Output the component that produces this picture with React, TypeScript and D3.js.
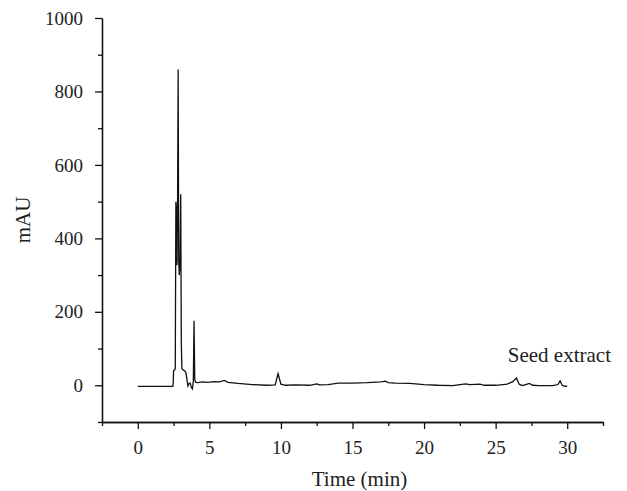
import React, { useEffect, useRef } from "react";
import * as d3 from "d3";

const times = [
  0, 2.45, 2.48, 2.5, 2.58, 2.62, 2.66, 2.7, 2.74, 2.78, 2.82, 2.86, 2.9, 2.95, 3.0, 3.04, 3.08,
  3.15, 3.25, 3.35, 3.42, 3.5, 3.58, 3.66, 3.74, 3.82, 3.88, 3.93, 3.98, 4.05, 4.2, 4.5, 4.9,
  5.3, 5.7, 6.05, 6.3, 7.0, 8.0, 9.0, 9.6, 9.8, 10.0, 10.3, 11.0, 12.0, 12.5, 12.7, 13.3,
  14.0, 15.0, 16.0, 17.0, 17.3, 17.5, 18.0, 19.0, 20.0, 21.0, 22.0, 22.9, 23.2, 23.9, 24.2,
  25.0, 25.8, 26.2, 26.45, 26.65, 26.85, 27.1, 27.35, 27.6, 28.0, 29.0, 29.35, 29.5, 29.65,
  29.8, 30.0,
];
const mau = [
  -3, -3, 10, 40, 42, 45, 500, 480, 327, 500, 860, 340, 300, 330, 520, 120, 45,
  42, 40, 36, 20, -2, 5, 6, -6, -10, 12, 176, 15, 8, 7, 9, 8,
  10, 9, 13, 8, 5, 2, 0, 1, 32, 3, 0, 1, 0, 4, 1, 2,
  6, 6, 7, 9, 11, 7, 6, 5, 2, 0, -1, 4, 2, 3, 0,
  0, 3, 10, 20, 3, -1, 2, 5, 0, -1, -1, 2, 12, 0,
  -2, -3,
];

const xMajorTicks = [0, 5, 10, 15, 20, 25, 30];
const xMinorTicks = [-2.5, 2.5, 7.5, 12.5, 17.5, 22.5, 27.5, 32.5];
const yMajorTicks = [0, 200, 400, 600, 800, 1000];
const yMinorTicks = [-100, 100, 300, 500, 700, 900];

const seriesLabel = "Seed extract";
const xTitle = "Time (min)";
const yTitle = "mAU";

const W = 627;
const H = 491;
const FONT = "'Liberation Serif', 'Times New Roman', serif";

export default function App() {
  const ref = useRef<SVGSVGElement>(null);

  useEffect(() => {
    const svg = d3.select(ref.current);
    svg.selectAll("*").remove();

    const x = d3.scaleLinear().domain([-2.5, 32.5]).range([102, 603]);
    const y = d3.scaleLinear().domain([-100, 1000]).range([422, 18]);

    const data = times.map((t, i) => [t, mau[i]] as [number, number]);
    const line = d3
      .line<[number, number]>()
      .x((d) => x(d[0]))
      .y((d) => y(d[1]));

    svg
      .append("path")
      .datum(data)
      .attr("d", line)
      .attr("fill", "none")
      .attr("stroke", "#111")
      .attr("stroke-width", 1.3)
      .attr("stroke-linejoin", "miter");

    const styleAxis = (g: d3.Selection<SVGGElement, unknown, null, undefined>) => {
      g.selectAll("path.domain").attr("stroke", "#111").attr("stroke-width", 1.3);
      g.selectAll(".tick line").attr("stroke", "#111").attr("stroke-width", 1.3);
      g.selectAll(".tick text")
        .attr("fill", "#222")
        .style("font-family", FONT)
        .style("font-size", "19px");
    };

    // X axis
    const gxMinor = svg.append("g").attr("transform", `translate(0,422)`);
    gxMinor.call(
      d3.axisBottom(x).tickValues(xMinorTicks).tickSize(4).tickSizeOuter(0).tickFormat(() => "")
    );
    styleAxis(gxMinor);
    const gx = svg.append("g").attr("transform", `translate(0,422)`);
    gx.call(
      d3.axisBottom(x).tickValues(xMajorTicks).tickSize(7).tickSizeOuter(0).tickPadding(12).tickFormat(d3.format("d"))
    );
    styleAxis(gx);

    // Y axis
    const gyMinor = svg.append("g").attr("transform", `translate(102,0)`);
    gyMinor.call(
      d3.axisLeft(y).tickValues(yMinorTicks).tickSize(4).tickSizeOuter(0).tickFormat(() => "")
    );
    styleAxis(gyMinor);
    const gy = svg.append("g").attr("transform", `translate(102,0)`);
    gy.call(
      d3.axisLeft(y).tickValues(yMajorTicks).tickSize(7).tickSizeOuter(0).tickPadding(12).tickFormat(d3.format("d"))
    );
    styleAxis(gy);

    // Titles
    svg
      .append("text")
      .attr("x", (x(-2.5) + x(32.5)) / 2 + 7)
      .attr("y", 486)
      .attr("text-anchor", "middle")
      .attr("fill", "#222")
      .style("font-family", FONT)
      .style("font-size", "21px")
      .text(xTitle);

    svg
      .append("text")
      .attr("transform", `translate(30,${(y(-100) + y(1000)) / 2}) rotate(-90)`)
      .attr("text-anchor", "middle")
      .attr("fill", "#222")
      .style("font-family", FONT)
      .style("font-size", "21px")
      .text(yTitle);

    svg
      .append("text")
      .attr("x", 611)
      .attr("y", 362)
      .attr("text-anchor", "end")
      .attr("fill", "#222")
      .style("font-family", FONT)
      .style("font-size", "21px")
      .text(seriesLabel);
  }, []);

  return (
    <svg
      ref={ref}
      width={W}
      height={H}
      style={{ position: "absolute", left: 0, top: 0, background: "#fff" }}
    />
  );
}
